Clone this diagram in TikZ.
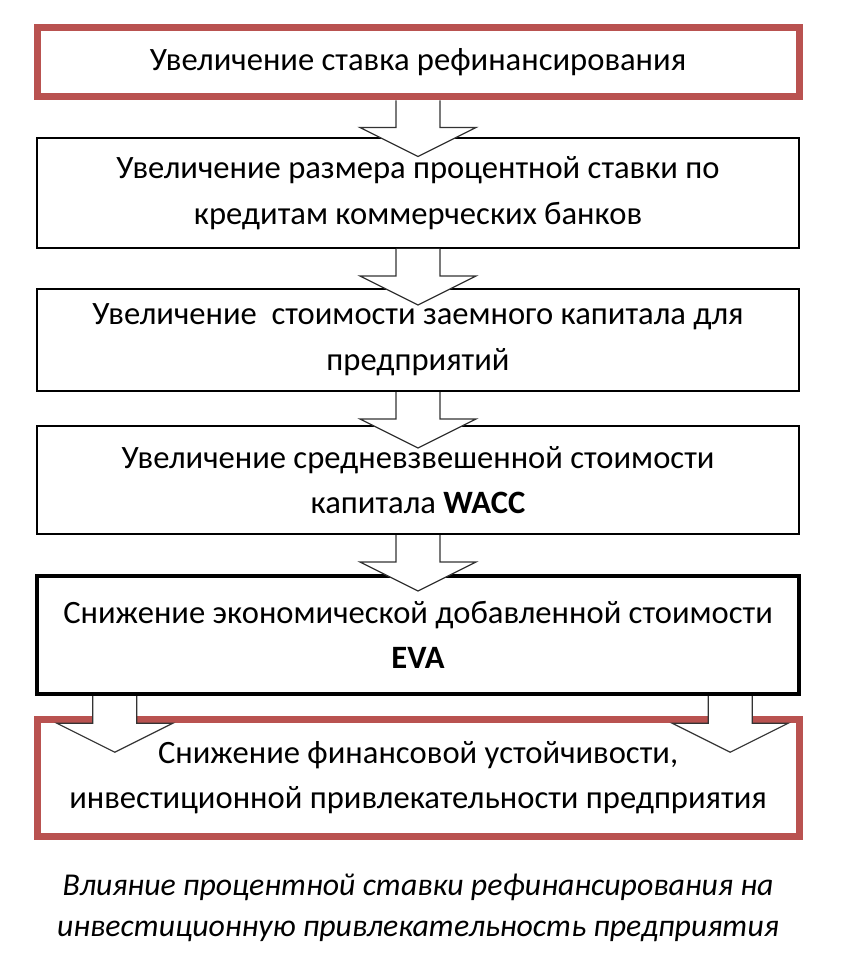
\documentclass[tikz,border=0pt]{standalone}
\usepackage{fontspec}
\setmainfont{Carlito}
\usepackage{tikz}
\usetikzlibrary{calc,positioning}
\definecolor{boxred}{RGB}{185,82,80}

\begin{document}
\begin{tikzpicture}[x=0.5pt,y=-0.5pt,
    box/.style={draw,rectangle,minimum width=381pt,align=center,
      font=\fontsize{16.3}{22.8}\selectfont,fill=white},
    redbox/.style={box,draw=boxred,line width=3.5pt},
    plainbox/.style={box,line width=1pt},
    boldbox/.style={box,line width=2.2pt},
    blockarr/.style={draw=black!80,fill=white,line width=0.6pt,line join=miter}]
	\useasboundingbox (0,0) rectangle (848,962);
	\node[redbox,minimum height=34.5pt] (b1) at (418,62.5) {Увеличение ставка рефинансирования};
	\node[plainbox,minimum height=55pt] (b2) at (418,193) {Увеличение размера процентной ставки по\\кредитам коммерческих банков};
	\node[plainbox,minimum height=51pt] (b3) at (418,340) {Увеличение\ \ стоимости заемного капитала для\\предприятий};
	\node[plainbox,minimum height=54pt] (b4) at (418,480) {Увеличение средневзвешенной стоимости\\капитала \textbf{WACC}};
	\node[boldbox,minimum height=59pt] (b5) at (418,635) {Снижение экономической добавленной стоимости\\\textbf{EVA}};
	\node[redbox,minimum height=58.5pt] (b6) at (418,777.5) {Снижение финансовой устойчивости,\\инвестиционной привлекательности предприятия};
	\coordinate (a5l) at ($(b5.south west)+(80,0)$);
	\coordinate (a5r) at ($(b5.south east)+(-71,0)$);
	% block arrows between the boxes
	\foreach \p in {b1.south,b2.south,b3.south,b4.south,a5l,a5r}{%
	  \path[blockarr] (\p) ++(-22,0) -- ++(0,27) -- ++(-36,0) -- ++(58,29)
	    -- ++(58,-29) -- ++(-36,0) -- ++(0,-27);
	}
	\node[align=center,font=\fontsize{15.9}{20.5}\selectfont\itshape] (cap) at (418,908)
	  {Влияние процентной ставки рефинансирования на\\инвестиционную привлекательность предприятия};
\end{tikzpicture}
\end{document}
